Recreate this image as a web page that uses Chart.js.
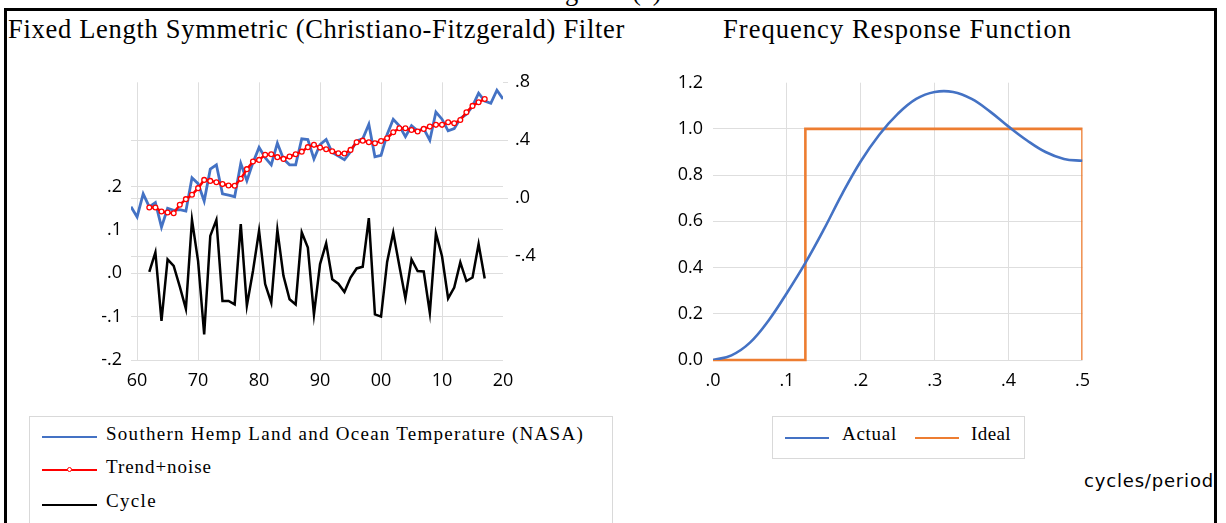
<!DOCTYPE html>
<html>
<head>
<meta charset="utf-8">
<script src="https://cdn.jsdelivr.net/npm/chart.js@4.4.1/dist/chart.umd.min.js"></script>
<style>
html,body{margin:0;padding:0;background:#fff;}
body{width:1226px;height:523px;position:relative;overflow:hidden;font-family:"Liberation Serif",serif;color:#000;}
.abs{position:absolute;white-space:nowrap;line-height:1;}
#frame{position:absolute;left:4px;top:8px;width:1207px;height:600px;border:3px solid #000;border-bottom:none;pointer-events:none;}
.title{font-size:26.5px;}
.legtxt{font-size:19px;}
.box{position:absolute;border:1px solid #d9d9d9;background:#fff;}
.sample{position:absolute;height:0;}
canvas{position:absolute;}
</style>
</head>
<body>
<div class="abs title" id="caption" style="left:543px;top:-22px;">Figure 3(a)</div>
<div class="abs title" id="t1" style="left:8px;top:16px;">Fixed Length Symmetric (Christiano-Fitzgerald) Filter</div>
<div class="abs title" id="t2" style="left:723px;top:16px;">Frequency Response Function</div>

<canvas id="c1" width="520" height="340" style="left:60px;top:60px;"></canvas>
<canvas id="c2" width="460" height="340" style="left:640px;top:60px;"></canvas>

<div class="box" style="left:29px;top:416px;width:582px;height:130px;"></div>
<div class="box" style="left:772px;top:416px;width:251px;height:41px;"></div>
<div id="legends"></div>
<div class="abs" id="unit" style="left:1084px;top:472px;font-family:'DejaVu Sans',sans-serif;font-size:18px;">cycles/period</div>
<div id="frame"></div>

<script>
// ---------------- data ----------------
const years = [1959,1960,1961,1962,1963,1964,1965,1966,1967,1968,1969,1970,1971,1972,1973,1974,1975,1976,1977,1978,1979,
  1980,1981,1982,1983,1984,1985,1986,1987,1988,1989,1990,1991,1992,1993,1994,1995,1996,1997,1998,1999,
  2000,2001,2002,2003,2004,2005,2006,2007,2008,2009,2010,2011,2012,2013,2014,2015,2016,2017,2018,2019,2020];
const nasaTemp = [-0.06,-0.13,0.03,-0.06,-0.03,-0.20,-0.07,-0.085,-0.08,-0.09,0.14,0.10,-0.02,0.20,0.23,0.03,0.02,0.01,0.24,0.12,0.245,
  0.35,0.28,0.23,0.38,0.27,0.23,0.23,0.41,0.405,0.27,0.37,0.405,0.315,0.29,0.265,0.32,0.395,0.41,0.51,0.285,
  0.295,0.44,0.545,0.50,0.425,0.50,0.465,0.48,0.40,0.595,0.545,0.465,0.48,0.55,0.58,0.635,0.725,0.67,0.655,0.745,0.685];
const trendNoise = [null,null,null,-0.065,-0.065,-0.092,-0.099,-0.104,-0.046,-0.007,0.023,0.069,0.126,0.119,0.11,0.097,0.087,0.085,0.133,0.20,0.253,
  0.264,0.299,0.303,0.283,0.271,0.287,0.303,0.321,0.352,0.368,0.349,0.338,0.324,0.31,0.308,0.333,0.386,0.397,0.386,0.379,
  0.395,0.414,0.455,0.483,0.483,0.471,0.46,0.478,0.494,0.506,0.506,0.524,0.517,0.54,0.593,0.637,0.662,0.685,null,null,null];
const cycle = [null,null,null,0.003,0.048,-0.11,0.032,0.017,-0.031,-0.082,0.123,0.028,-0.141,0.086,0.123,-0.064,-0.064,-0.072,0.113,-0.075,0.005,
  0.098,-0.025,-0.068,0.10,-0.006,-0.06,-0.072,0.094,0.059,-0.095,0.021,0.069,-0.014,-0.024,-0.043,-0.01,0.011,0.015,0.127,-0.095,
  -0.10,0.026,0.094,0.017,-0.058,0.032,0.005,0.004,-0.091,0.092,0.039,-0.058,-0.033,0.025,-0.018,-0.01,0.067,-0.012,null,null,null];
const seriesNames = ['Southern Hemp Land and Ocean Temperature (NASA)','Trend+noise','Cycle'];

const xTickValues = [1960,1970,1980,1990,2000,2010,2020];
const xTickLabels = ['60','70','80','90','00','10','20'];
const cycleTickValues = [-0.2,-0.1,0,0.1,0.2];
const cycleTickLabels = ['-.2','-.1','.0','.1','.2'];
const tempTickValues = [-0.4,0,0.4,0.8];
const tempTickLabels = ['-.4','.0','.4','.8'];

const freq = [0,0.025,0.05,0.075,0.1,0.125,0.15,0.175,0.2,0.225,0.25,0.275,0.3,0.325,0.35,0.375,0.4,0.425,0.45,0.475,0.5];
const actualResp = [0,0.02,0.075,0.17,0.29,0.42,0.565,0.72,0.86,0.975,1.065,1.13,1.16,1.16,1.13,1.075,1.01,0.95,0.90,0.87,0.862];
const idealFreq = [0,0.125,0.125,0.5,0.5];
const idealResp = [0,0,1,1,0];
const respNames = ['Actual','Ideal'];
const freqTickValues = [0,0.1,0.2,0.3,0.4,0.5];
const freqTickLabels = ['.0','.1','.2','.3','.4','.5'];
const respTickValues = [0,0.2,0.4,0.6,0.8,1.0,1.2];
const respTickLabels = ['0.0','0.2','0.4','0.6','0.8','1.0','1.2'];

// ---------------- helpers ----------------
const GRID = '#dedede';
const NONE = 'rgba(0,0,0,0)';
const TICKFONT = {family:"'Open Sans', sans-serif", size:18};
function fixedTicks(values){ return function(scale){ scale.ticks = values.map(v => ({value:v})); }; }
function labelFrom(values, labels){
  return function(v){ const i = values.findIndex(t => Math.abs(t - v) < 1e-9); return i >= 0 ? labels[i] : ''; };
}
function pts(xs, ys){ return xs.map((x,i) => ({x:x, y:ys[i]})); }

// ---------------- left chart ----------------
new Chart(document.getElementById('c1'), {
  type:'line',
  data:{datasets:[
    {label:seriesNames[0], data:pts(years,nasaTemp), yAxisID:'yR', borderColor:'#4472C4', borderWidth:2.8,
     pointRadius:0, tension:0, order:2},
    {label:seriesNames[1], data:pts(years,trendNoise), yAxisID:'yR', borderColor:'#FF0000', borderWidth:2.5,
     pointRadius:2.4, pointBorderWidth:1.3, pointBackgroundColor:'#ffffff', pointBorderColor:'#FF0000', tension:0, order:1},
    {label:seriesNames[2], data:pts(years,cycle), yAxisID:'yL', borderColor:'#000000', borderWidth:2.5,
     pointRadius:0, tension:0, order:0}
  ]},
  options:{
    responsive:false, animation:false, devicePixelRatio:1,
    layout:{padding:{top:22.3,left:0,right:0,bottom:0}},
    plugins:{legend:{display:false}, tooltip:{enabled:false}},
    scales:{
      x:{type:'linear', min:1959, max:2020, afterBuildTicks:fixedTicks(xTickValues), afterFit(s){ s.height = 40; },
         grid:{color:c => (c.tick && c.tick.value === 2020) ? NONE : GRID, drawTicks:false},
         border:{display:false},
         ticks:{callback:labelFrom(xTickValues,xTickLabels), color:'#000', font:TICKFONT, padding:10, maxRotation:0, autoSkip:false}},
      yL:{type:'linear', position:'left', min:-0.2, max:0.44, afterBuildTicks:fixedTicks(cycleTickValues), afterFit(s){ s.width = 71; },
          grid:{color:GRID, drawTicks:false}, border:{display:false},
          ticks:{callback:labelFrom(cycleTickValues,cycleTickLabels), color:'#000', font:TICKFONT, padding:9, autoSkip:false}},
      yR:{type:'linear', position:'right', min:-1.118, max:0.8, afterBuildTicks:fixedTicks(tempTickValues), afterFit(s){ s.width = 77; },
          grid:{color:c => (c.tick && c.tick.value === 0.8) ? NONE : GRID, tickColor:GRID, drawTicks:true, tickLength:5},
          border:{display:false},
          ticks:{callback:labelFrom(tempTickValues,tempTickLabels), color:'#000', font:TICKFONT, padding:7, autoSkip:false}}
    }
  }
});

// ---------------- right chart ----------------
new Chart(document.getElementById('c2'), {
  type:'line',
  data:{datasets:[
    {label:respNames[0], data:pts(freq,actualResp), borderColor:'#4472C4', borderWidth:2.6, pointRadius:0,
     tension:0.4, order:0},
    {label:respNames[1], data:pts(idealFreq,idealResp), borderColor:'#ED7D31', borderWidth:2.6, pointRadius:0,
     tension:0, order:1, clip:{left:2, top:2, right:0, bottom:2}}
  ]},
  options:{
    responsive:false, animation:false, devicePixelRatio:1,
    layout:{padding:{top:22.7,left:0,right:17,bottom:0}},
    plugins:{legend:{display:false}, tooltip:{enabled:false}},
    scales:{
      x:{type:'linear', min:0, max:0.5, afterBuildTicks:fixedTicks(freqTickValues), afterFit(s){ s.height = 40; },
         grid:{color:c => (c.tick && (c.tick.value === 0 || c.tick.value === 0.5)) ? NONE : GRID, drawTicks:false},
         border:{display:false},
         ticks:{callback:labelFrom(freqTickValues,freqTickLabels), color:'#000', font:TICKFONT, padding:10, maxRotation:0, autoSkip:false}},
      y:{type:'linear', min:0, max:1.2, afterBuildTicks:fixedTicks(respTickValues), afterFit(s){ s.width = 73; },
         grid:{color:c => (c.tick && c.tick.value === 1.2) ? NONE : GRID, drawTicks:false}, border:{display:false},
         ticks:{callback:labelFrom(respTickValues,respTickLabels), color:'#000', font:TICKFONT, padding:10, autoSkip:false}}
    }
  }
});

// ---------------- legends (HTML, real text) ----------------
const legends = document.getElementById('legends');
function addSample(x, y, w, color, marker){
  const d = document.createElement('div');
  d.className = 'sample';
  d.style.cssText = `left:${x}px;top:${y-1.3}px;width:${w}px;border-top:2.6px solid ${color};`;
  legends.appendChild(d);
  if (marker){
    const m = document.createElement('div');
    m.style.cssText = `position:absolute;left:${x+w/2-2.6}px;top:${y-2.6}px;width:3px;height:3px;border:1.2px solid ${color};border-radius:50%;background:#fff;`;
    legends.appendChild(m);
  }
}
function addText(x, top, txt, target){
  const d = document.createElement('div');
  d.className = 'abs legtxt';
  d.style.left = x + 'px'; d.style.top = top + 'px';
  d.textContent = txt;
  legends.appendChild(d);
  if (target){
    const w = d.getBoundingClientRect().width;
    d.style.letterSpacing = ((target - w) / txt.length) + 'px';
  }
}
addSample(42, 437, 55, '#4472C4', false);
addText(106, 424, seriesNames[0], 478);
addSample(42, 470, 55, '#FF0000', true);
addText(106, 457, seriesNames[1], 106);
addSample(42, 505, 55, '#000000', false);
addText(106, 491, seriesNames[2], 51);
addSample(785, 438, 44, '#4472C4', false);
addText(842, 424, respNames[0], 55);
addSample(915, 438, 44, '#ED7D31', false);
addText(971, 424, respNames[1], 40);

function fitWidth(id, target){
  const el = document.getElementById(id);
  const w = el.getBoundingClientRect().width;
  el.style.letterSpacing = ((target - w) / el.textContent.length) + 'px';
}
fitWidth('t1', 617);
fitWidth('t2', 349);
fitWidth('unit', 130);
</script>
</body>
</html>
